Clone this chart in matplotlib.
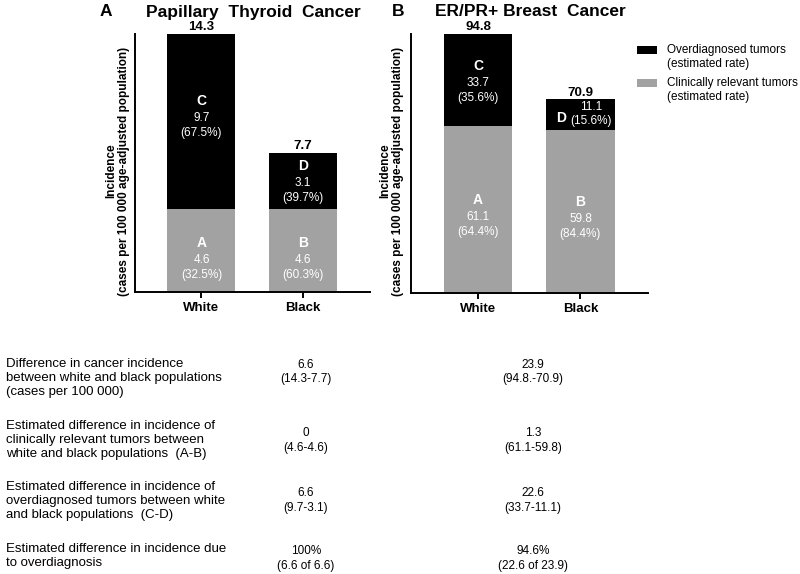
import matplotlib
matplotlib.use('Agg')
import matplotlib.pyplot as plt
from matplotlib.patches import Rectangle

plt.rcParams['font.family'] = ['Liberation Sans', 'DejaVu Sans']

# ---------------- data ----------------
groups = ['White', 'Black']
relevant_letters = ['A', 'B']
over_letters = ['C', 'D']

thyroid_relevant = [4.6, 4.6]
thyroid_over = [9.7, 3.1]
thyroid_total = [14.3, 7.7]
thyroid_relevant_pct = ['(32.5%)', '(60.3%)']
thyroid_over_pct = ['(67.5%)', '(39.7%)']

breast_relevant = [61.1, 59.8]
breast_over = [33.7, 11.1]
breast_total = [94.8, 70.9]
breast_relevant_pct = ['(64.4%)', '(84.4%)']
breast_over_pct = ['(35.6%)', '(15.6%)']

legend_labels = ['Overdiagnosed tumors\n(estimated rate)',
                 'Clinically relevant tumors\n(estimated rate)']

row_labels = [
    ['Difference in cancer incidence', 'between white and black populations', '(cases per 100 000)'],
    ['Estimated difference in incidence of', 'clinically relevant tumors between', 'white and black populations  (A-B)'],
    ['Estimated difference in incidence of', 'overdiagnosed tumors between white', 'and black populations  (C-D)'],
    ['Estimated difference in incidence due', 'to overdiagnosis'],
]
thyroid_diffs = [['6.6', '(14.3-7.7)'], ['0', '(4.6-4.6)'], ['6.6', '(9.7-3.1)'], ['100%', '(6.6 of 6.6)']]
breast_diffs = [['23.9', '(94.8.-70.9)'], ['1.3', '(61.1-59.8)'], ['22.6', '(33.7-11.1)'], ['94.6%', '(22.6 of 23.9)']]

# ---------------- layout ----------------
W, H = 800, 574
GREY = '#a2a2a2'
fig = plt.figure(figsize=(W / 100, H / 100), dpi=100)


def fy(y):
    return 1 - y / H


def px2pt(p):
    return p * 0.72


axA = fig.add_axes([135 / W, 1 - 292 / H, (370 - 135) / W, (292 - 34) / H])
axB = fig.add_axes([411 / W, 1 - 293 / H, (648 - 411) / W, (293 - 34) / H])

xpos = list(range(len(groups)))
bw = 0.67


def draw_panel(ax, relevant, over, total, rel_pct, over_pct, rel_shift, over_shift, special_d=False):
    ax.bar(xpos, relevant, width=bw, color=GREY, edgecolor='none')
    ax.bar(xpos, over, width=bw, bottom=relevant, color='black', edgecolor='none')
    ax.set_xlim(-0.655, 1.66)
    ax.set_ylim(0, max(total))
    for s in ['top', 'right']:
        ax.spines[s].set_visible(False)
    for s in ['left', 'bottom']:
        ax.spines[s].set_linewidth(1.4)
    ax.set_yticks([])
    ax.set_xticks(xpos)
    ax.set_xticklabels(groups, fontsize=9.5, fontweight='bold')
    ax.tick_params(axis='x', length=4, width=1.4, pad=3)
    for i in xpos:
        # totals
        ax.annotate(f'{total[i]}', (i, total[i]), xytext=(0, 0.5), textcoords='offset points',
                    ha='center', va='bottom', fontsize=9.5, fontweight='bold')
        # clinically relevant segment
        c = relevant[i] / 2
        sh = rel_shift[i]
        ax.annotate(relevant_letters[i], (i, c), xytext=(0, -px2pt(sh - 17)), textcoords='offset points',
                    ha='center', va='center', fontsize=10, fontweight='bold', color='white')
        ax.annotate(f'{relevant[i]}', (i, c), xytext=(0, -px2pt(sh)), textcoords='offset points',
                    ha='center', va='center', fontsize=8.5, color='white')
        ax.annotate(rel_pct[i], (i, c), xytext=(0, -px2pt(sh + 15)), textcoords='offset points',
                    ha='center', va='center', fontsize=8.5, color='white')
        # overdiagnosed segment
        c = relevant[i] + over[i] / 2
        sh = over_shift[i]
        if special_d and i == 1:
            ax.annotate(f'{over[i]}', (i, c), xytext=(px2pt(11), px2pt(7)), textcoords='offset points',
                        ha='center', va='center', fontsize=8.5, color='white')
            ax.annotate(over_pct[i], (i, c), xytext=(px2pt(11), -px2pt(7)), textcoords='offset points',
                        ha='center', va='center', fontsize=8.5, color='white')
            ax.annotate(over_letters[i], (i, c), xytext=(-px2pt(19), -px2pt(4)), textcoords='offset points',
                        ha='center', va='center', fontsize=10, fontweight='bold', color='white')
        else:
            ax.annotate(over_letters[i], (i, c), xytext=(0, -px2pt(sh - 17)), textcoords='offset points',
                        ha='center', va='center', fontsize=10, fontweight='bold', color='white')
            ax.annotate(f'{over[i]}', (i, c), xytext=(0, -px2pt(sh)), textcoords='offset points',
                        ha='center', va='center', fontsize=8.5, color='white')
            ax.annotate(over_pct[i], (i, c), xytext=(0, -px2pt(sh + 15)), textcoords='offset points',
                        ha='center', va='center', fontsize=8.5, color='white')


draw_panel(axA, thyroid_relevant, thyroid_over, thyroid_total, thyroid_relevant_pct, thyroid_over_pct,
           rel_shift=[9.5, 9.5], over_shift=[-4, 2])
draw_panel(axB, breast_relevant, breast_over, breast_total, breast_relevant_pct, breast_over_pct,
           rel_shift=[7.5, 7.5], over_shift=[3, 0], special_d=True)

# titles & panel letters
fig.text(100 / W, fy(12), 'A', fontsize=12.5, fontweight='bold', ha='left', va='center')
fig.text(253 / W, fy(12), 'Papillary  Thyroid  Cancer', fontsize=12.5, fontweight='bold', ha='center', va='center')
fig.text(392 / W, fy(12), 'B', fontsize=12.5, fontweight='bold', ha='left', va='center')
fig.text(530 / W, fy(12), 'ER/PR+ Breast  Cancer', fontsize=12.5, fontweight='bold', ha='center', va='center')

# y labels
ylab = 'Incidence\n(cases per 100 000 age-adjusted population)'
fig.text(117.5 / W, fy(171), ylab, rotation=90, fontsize=8.5, fontweight='bold',
         ha='center', va='center', multialignment='center', linespacing=1.15)
fig.text(391.5 / W, fy(171), ylab, rotation=90, fontsize=8.5, fontweight='bold',
         ha='center', va='center', multialignment='center', linespacing=1.15)

# legend (manual)
leg_colors = ['black', GREY]
leg_y = [50, 83]
for col, lab, y in zip(leg_colors, legend_labels, leg_y):
    fig.patches.append(Rectangle((637 / W, fy(y + 4)), 20 / W, 8 / H, transform=fig.transFigure,
                                 facecolor=col, edgecolor='none'))
    lines = lab.split('\n')
    for k, ln in enumerate(lines):
        fig.text(667 / W, fy(y + 14 * k), ln, fontsize=8.5, ha='left', va='center')

# table
row_y = [364, 426, 487, 549]
val_center = [371.5, 440, 500, 558]
for r, lines in enumerate(row_labels):
    for k, ln in enumerate(lines):
        fig.text(6 / W, fy(row_y[r] + 14 * k), ln, fontsize=9.5, ha='left', va='center')
    for colx, vals in [(306, thyroid_diffs[r]), (533, breast_diffs[r])]:
        for k, v in enumerate(vals):
            fig.text(colx / W, fy(val_center[r] - 7 + 14.5 * k), v, fontsize=8.5, ha='center', va='center')

fig.savefig('out.png', dpi=100)
